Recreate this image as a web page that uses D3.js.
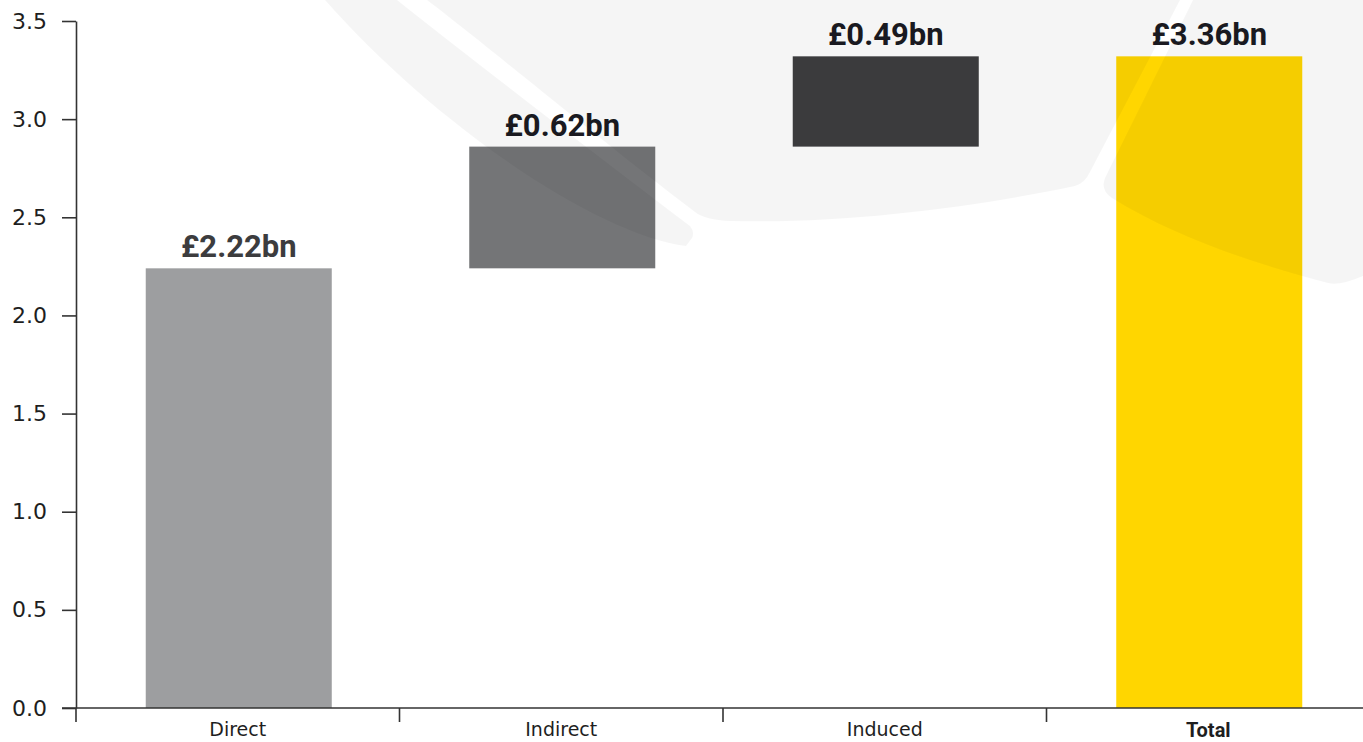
<!DOCTYPE html>
<html>
<head>
<meta charset="utf-8">
<script src="https://cdn.jsdelivr.net/npm/d3@7"></script>
<style>
  html, body { margin: 0; padding: 0; background: #ffffff; }
  svg { display: block; }
</style>
</head>
<body>
<svg id="chart" width="1363" height="742"></svg>
<script>
// ---- data ----
const categories = ["Direct", "Indirect", "Induced", "Total"];
const stepValues = [2.24, 0.62, 0.46];          // heights of the waterfall steps
const totalValue = 3.32;                         // height of the total bar
const valueLabels = ["£2.22bn", "£0.62bn", "£0.49bn", "£3.36bn"];
const yTickValues = [0, 0.5, 1.0, 1.5, 2.0, 2.5, 3.0, 3.5];
const yDomain = [0, 3.5];

// ---- styles ----
const barColors = ["#9d9ea0", "#747577", "#3e3e40", "#ffd600"];
const labelColors = ["#3c3c3e", "#1b1b22", "#1b1b22", "#1b1b22"];

const W = 1363, H = 742;
const svg = d3.select("#chart");

const y = d3.scaleLinear().domain(yDomain).range([708, 21]);
const x = d3.scaleBand().domain(categories).range([76, 1370])
  .paddingInner(0.425).paddingOuter(0.2125);

// build waterfall segments
let running = 0;
const segs = categories.map((c, i) => {
  if (i < stepValues.length) {
    const s = { cat: c, y0: running, y1: running + stepValues[i], label: valueLabels[i], color: barColors[i], lc: labelColors[i] };
    running += stepValues[i];
    return s;
  }
  return { cat: c, y0: 0, y1: totalValue, label: valueLabels[i], color: barColors[i], lc: labelColors[i] };
});

// bars
svg.append("g").selectAll("rect").data(segs).join("rect")
  .attr("x", d => x(d.cat) + 1)
  .attr("width", x.bandwidth())
  .attr("y", d => y(d.y1))
  .attr("height", d => y(d.y0) - y(d.y1))
  .attr("fill", d => d.color);

// value labels
svg.append("g").selectAll("text").data(segs).join("text")
  .attr("x", d => x(d.cat) + 1 + x.bandwidth() / 2)
  .attr("y", d => y(d.y1) - 11)
  .attr("text-anchor", "middle")
  .attr("font-family", "Roboto, 'DejaVu Sans', sans-serif")
  .attr("font-weight", "bold")
  .attr("font-size", 31)
  .attr("fill", d => d.lc)
  .text(d => d.label);

// y axis
const yAxis = d3.axisLeft(y).tickValues(yTickValues).tickFormat(d3.format(".1f"))
  .tickSize(14).tickSizeOuter(0).tickPadding(15);
const gy = svg.append("g").attr("transform", "translate(76,0)").call(yAxis);
gy.select(".domain").attr("stroke", "#333").attr("stroke-width", 1.6);
gy.selectAll(".tick line").attr("stroke", "#333").attr("stroke-width", 1.6);
gy.selectAll(".tick text").attr("font-family", "'DejaVu Sans', sans-serif")
  .attr("font-size", 22).attr("fill", "#1e1e1e");

// x axis line
svg.append("line").attr("x1", 62).attr("x2", W).attr("y1", y(0)).attr("y2", y(0))
  .attr("stroke", "#333").attr("stroke-width", 1.6);

// x boundary ticks
const step = x.step();
const half = step * x.paddingInner() / 2;
const bounds = categories.map(c => x(c) - half).concat([x(categories[categories.length - 1]) + x.bandwidth() + half]);
svg.append("g").selectAll("line").data(bounds).join("line")
  .attr("x1", d => d).attr("x2", d => d)
  .attr("y1", y(0)).attr("y2", y(0) + 14)
  .attr("stroke", "#333").attr("stroke-width", 1.6);

// x labels
const xAxis = d3.axisBottom(x).tickSize(0).tickPadding(15);
const gx = svg.append("g").attr("transform", `translate(0,${y(0)})`).call(xAxis);
gx.select(".domain").remove();
gx.selectAll(".tick text")
  .attr("font-family", d => d === "Total" ? "Roboto, 'DejaVu Sans', sans-serif" : "'DejaVu Sans', sans-serif")
  .attr("font-weight", d => d === "Total" ? "bold" : "normal")
  .attr("font-size", d => d === "Total" ? 20 : 19)
  .attr("fill", "#1e1e1e");

// faint watermark overlay (decoration)
const wm = svg.append("g").attr("fill", "#000").attr("fill-opacity", 0.04).style("pointer-events", "none");
wm.append("path").attr("d",
  "M325,0 L397,0 C470,58 590,150 690,226 Q695,232 692,238 L686,246 C600,235 440,130 325,0 Z");
wm.append("path").attr("d",
  "M427,0 C480,40 600,140 695,212 Q705,220 730,221 C850,224 980,206 1075,186 Q1085,183 1090,172 L1180,0 Z");
wm.append("path").attr("d",
  "M1193,0 L1105,178 Q1100,190 1112,198 C1180,240 1260,265 1328,283 Q1340,286 1363,276 L1363,0 Z");
</script>
</body>
</html>
